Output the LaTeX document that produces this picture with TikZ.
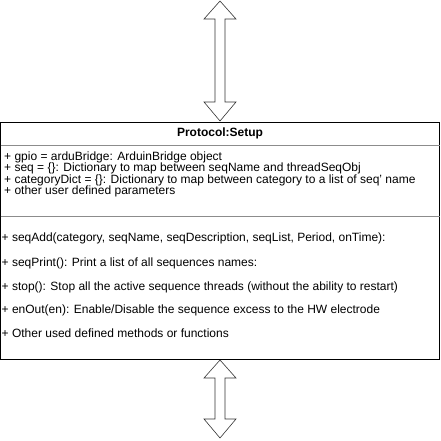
\documentclass[tikz,border=0pt]{standalone}
\usepackage{fontspec}
\setmainfont{Liberation Sans}
\begin{document}
\begin{tikzpicture}[x=1pt,y=-1pt,
    member/.style={anchor=west,inner sep=0pt,font=\fontsize{12}{14}\selectfont},
    dblarrow/.style={draw=black!80,fill=white,line width=0.6pt}]
    \useasboundingbox (0,0) rectangle (441,440);
    %% Double arrows above and below the class
    \foreach \ya/\yb in {1/121,360/438} {
        \draw[dblarrow] (220,\ya) -- (236,\ya+18) -- (225,\ya+18) -- (225,\yb-19)
            -- (236,\yb-19) -- (220,\yb) -- (204,\yb-19) -- (215,\yb-19)
            -- (215,\ya+18) -- (204,\ya+18) -- cycle;
    }
    %% Class box
    \draw[fill=white,line width=0.9pt] (0.5,122) rectangle (439.5,359.5);
    \draw[black!45,line width=0.8pt] (0.5,145) -- (439.5,145);
    \draw[black!45,line width=0.8pt] (0.5,216) -- (439.5,216);
    \node[font=\bfseries\fontsize{12}{14}\selectfont,inner sep=0pt] (title) at (220,133.5) {Protocol:Setup};
    %% Attributes
    \node[member] (gpio) at (4,157) {+ gpio = arduBridge: ArduinBridge object};
    \node[member] (seq) at (4,168.5) {+ seq = \{\}: Dictionary to map between seqName and threadSeqObj};
    \node[member] (catdict) at (4,180) {+ categoryDict = \{\}: Dictionary to map between category to a list of seq' name};
    \node[member] (params) at (4,191.5) {+ other user defined parameters};
    %% Methods
    \node[member] (seqadd) at (1.5,238) {+ seqAdd(category, seqName, seqDescription, seqList, Period, onTime):};
    \node[member] (seqprint) at (1.5,263) {+ seqPrint(): Print a list of all sequences names:};
    \node[member] (stop) at (1.5,287) {+ stop(): Stop all the active sequence threads (without the ability to restart)};
    \node[member] (enout) at (1.5,310) {+ enOut(en): Enable/Disable the sequence excess to the HW electrode};
    \node[member] (methods) at (1.5,333) {+ Other used defined methods or functions};
\end{tikzpicture}
\end{document}
